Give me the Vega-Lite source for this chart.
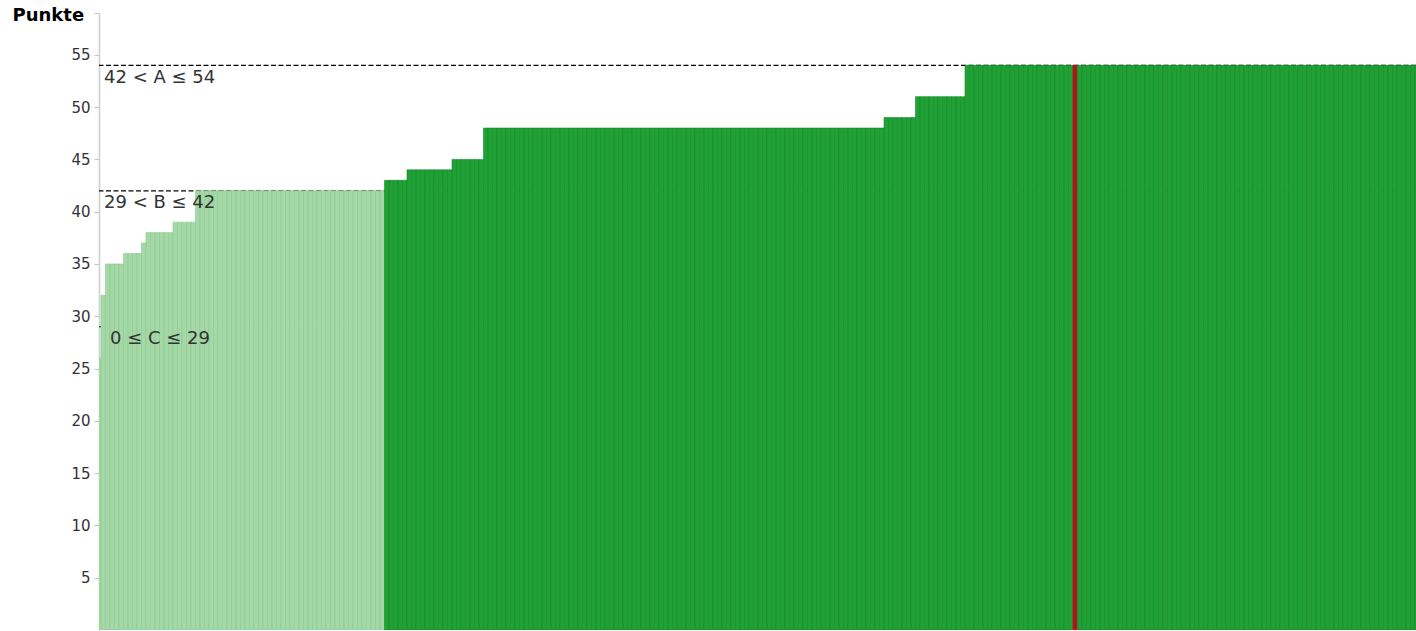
{
"$schema": "https://vega.github.io/schema/vega-lite/v6.json",
"width": 1317, "height": 617,
"autosize": {"type": "none"},
"padding": {"left": 99, "top": 13, "right": 0, "bottom": 1},
"background": "white",
"config": {"view": {"stroke": null}, "font": "DejaVu Sans"},
"datasets": {
"t": [{"p":54,"l":"42 < A ≤ 54"},{"p":42,"l":"29 < B ≤ 42"},{"p":29,"l":"0 ≤ C ≤ 29"}],
"s": [
{"i":0,"p":26,"k":"h"},{"i":1,"p":32,"k":"h"},
{"i":2,"p":35,"k":"h"},{"i":3,"p":35,"k":"h"},{"i":4,"p":35,"k":"h"},{"i":5,"p":35,"k":"h"},
{"i":6,"p":36,"k":"h"},{"i":7,"p":36,"k":"h"},{"i":8,"p":36,"k":"h"},{"i":9,"p":36,"k":"h"},
{"i":10,"p":37,"k":"h"},
{"i":11,"p":38,"k":"h"},{"i":12,"p":38,"k":"h"},{"i":13,"p":38,"k":"h"},{"i":14,"p":38,"k":"h"},{"i":15,"p":38,"k":"h"},{"i":16,"p":38,"k":"h"},
{"i":17,"p":39,"k":"h"},{"i":18,"p":39,"k":"h"},{"i":19,"p":39,"k":"h"},{"i":20,"p":39,"k":"h"},{"i":21,"p":39,"k":"h"},
{"i":22,"p":42,"k":"h"},{"i":23,"p":42,"k":"h"},{"i":24,"p":42,"k":"h"},{"i":25,"p":42,"k":"h"},{"i":26,"p":42,"k":"h"},{"i":27,"p":42,"k":"h"},{"i":28,"p":42,"k":"h"},{"i":29,"p":42,"k":"h"},{"i":30,"p":42,"k":"h"},{"i":31,"p":42,"k":"h"},
{"i":32,"p":42,"k":"h"},{"i":33,"p":42,"k":"h"},{"i":34,"p":42,"k":"h"},{"i":35,"p":42,"k":"h"},{"i":36,"p":42,"k":"h"},{"i":37,"p":42,"k":"h"},{"i":38,"p":42,"k":"h"},{"i":39,"p":42,"k":"h"},{"i":40,"p":42,"k":"h"},{"i":41,"p":42,"k":"h"},
{"i":42,"p":42,"k":"h"},{"i":43,"p":42,"k":"h"},{"i":44,"p":42,"k":"h"},{"i":45,"p":42,"k":"h"},{"i":46,"p":42,"k":"h"},{"i":47,"p":42,"k":"h"},{"i":48,"p":42,"k":"h"},{"i":49,"p":42,"k":"h"},{"i":50,"p":42,"k":"h"},{"i":51,"p":42,"k":"h"},
{"i":52,"p":42,"k":"h"},{"i":53,"p":42,"k":"h"},{"i":54,"p":42,"k":"h"},{"i":55,"p":42,"k":"h"},{"i":56,"p":42,"k":"h"},{"i":57,"p":42,"k":"h"},{"i":58,"p":42,"k":"h"},{"i":59,"p":42,"k":"h"},{"i":60,"p":42,"k":"h"},{"i":61,"p":42,"k":"h"},
{"i":62,"p":42,"k":"h"},{"i":63,"p":42,"k":"h"},
{"i":64,"p":43,"k":"d"},{"i":65,"p":43,"k":"d"},{"i":66,"p":43,"k":"d"},{"i":67,"p":43,"k":"d"},{"i":68,"p":43,"k":"d"},
{"i":69,"p":44,"k":"d"},{"i":70,"p":44,"k":"d"},{"i":71,"p":44,"k":"d"},{"i":72,"p":44,"k":"d"},{"i":73,"p":44,"k":"d"},{"i":74,"p":44,"k":"d"},{"i":75,"p":44,"k":"d"},{"i":76,"p":44,"k":"d"},{"i":77,"p":44,"k":"d"},{"i":78,"p":44,"k":"d"},
{"i":79,"p":45,"k":"d"},{"i":80,"p":45,"k":"d"},{"i":81,"p":45,"k":"d"},{"i":82,"p":45,"k":"d"},{"i":83,"p":45,"k":"d"},{"i":84,"p":45,"k":"d"},{"i":85,"p":45,"k":"d"},
{"i":86,"p":48,"k":"d"},{"i":87,"p":48,"k":"d"},{"i":88,"p":48,"k":"d"},{"i":89,"p":48,"k":"d"},{"i":90,"p":48,"k":"d"},{"i":91,"p":48,"k":"d"},{"i":92,"p":48,"k":"d"},{"i":93,"p":48,"k":"d"},{"i":94,"p":48,"k":"d"},{"i":95,"p":48,"k":"d"},
{"i":96,"p":48,"k":"d"},{"i":97,"p":48,"k":"d"},{"i":98,"p":48,"k":"d"},{"i":99,"p":48,"k":"d"},{"i":100,"p":48,"k":"d"},{"i":101,"p":48,"k":"d"},{"i":102,"p":48,"k":"d"},{"i":103,"p":48,"k":"d"},{"i":104,"p":48,"k":"d"},{"i":105,"p":48,"k":"d"},
{"i":106,"p":48,"k":"d"},{"i":107,"p":48,"k":"d"},{"i":108,"p":48,"k":"d"},{"i":109,"p":48,"k":"d"},{"i":110,"p":48,"k":"d"},{"i":111,"p":48,"k":"d"},{"i":112,"p":48,"k":"d"},{"i":113,"p":48,"k":"d"},{"i":114,"p":48,"k":"d"},{"i":115,"p":48,"k":"d"},
{"i":116,"p":48,"k":"d"},{"i":117,"p":48,"k":"d"},{"i":118,"p":48,"k":"d"},{"i":119,"p":48,"k":"d"},{"i":120,"p":48,"k":"d"},{"i":121,"p":48,"k":"d"},{"i":122,"p":48,"k":"d"},{"i":123,"p":48,"k":"d"},{"i":124,"p":48,"k":"d"},{"i":125,"p":48,"k":"d"},
{"i":126,"p":48,"k":"d"},{"i":127,"p":48,"k":"d"},{"i":128,"p":48,"k":"d"},{"i":129,"p":48,"k":"d"},{"i":130,"p":48,"k":"d"},{"i":131,"p":48,"k":"d"},{"i":132,"p":48,"k":"d"},{"i":133,"p":48,"k":"d"},{"i":134,"p":48,"k":"d"},{"i":135,"p":48,"k":"d"},
{"i":136,"p":48,"k":"d"},{"i":137,"p":48,"k":"d"},{"i":138,"p":48,"k":"d"},{"i":139,"p":48,"k":"d"},{"i":140,"p":48,"k":"d"},{"i":141,"p":48,"k":"d"},{"i":142,"p":48,"k":"d"},{"i":143,"p":48,"k":"d"},{"i":144,"p":48,"k":"d"},{"i":145,"p":48,"k":"d"},
{"i":146,"p":48,"k":"d"},{"i":147,"p":48,"k":"d"},{"i":148,"p":48,"k":"d"},{"i":149,"p":48,"k":"d"},{"i":150,"p":48,"k":"d"},{"i":151,"p":48,"k":"d"},{"i":152,"p":48,"k":"d"},{"i":153,"p":48,"k":"d"},{"i":154,"p":48,"k":"d"},{"i":155,"p":48,"k":"d"},
{"i":156,"p":48,"k":"d"},{"i":157,"p":48,"k":"d"},{"i":158,"p":48,"k":"d"},{"i":159,"p":48,"k":"d"},{"i":160,"p":48,"k":"d"},{"i":161,"p":48,"k":"d"},{"i":162,"p":48,"k":"d"},{"i":163,"p":48,"k":"d"},{"i":164,"p":48,"k":"d"},{"i":165,"p":48,"k":"d"},
{"i":166,"p":48,"k":"d"},{"i":167,"p":48,"k":"d"},{"i":168,"p":48,"k":"d"},{"i":169,"p":48,"k":"d"},{"i":170,"p":48,"k":"d"},{"i":171,"p":48,"k":"d"},{"i":172,"p":48,"k":"d"},{"i":173,"p":48,"k":"d"},{"i":174,"p":48,"k":"d"},
{"i":175,"p":49,"k":"d"},{"i":176,"p":49,"k":"d"},{"i":177,"p":49,"k":"d"},{"i":178,"p":49,"k":"d"},{"i":179,"p":49,"k":"d"},{"i":180,"p":49,"k":"d"},{"i":181,"p":49,"k":"d"},
{"i":182,"p":51,"k":"d"},{"i":183,"p":51,"k":"d"},{"i":184,"p":51,"k":"d"},{"i":185,"p":51,"k":"d"},{"i":186,"p":51,"k":"d"},{"i":187,"p":51,"k":"d"},{"i":188,"p":51,"k":"d"},{"i":189,"p":51,"k":"d"},{"i":190,"p":51,"k":"d"},{"i":191,"p":51,"k":"d"},{"i":192,"p":51,"k":"d"},
{"i":193,"p":54,"k":"d"},{"i":194,"p":54,"k":"d"},{"i":195,"p":54,"k":"d"},{"i":196,"p":54,"k":"d"},{"i":197,"p":54,"k":"d"},{"i":198,"p":54,"k":"d"},{"i":199,"p":54,"k":"d"},{"i":200,"p":54,"k":"d"},{"i":201,"p":54,"k":"d"},{"i":202,"p":54,"k":"d"},
{"i":203,"p":54,"k":"d"},{"i":204,"p":54,"k":"d"},{"i":205,"p":54,"k":"d"},{"i":206,"p":54,"k":"d"},{"i":207,"p":54,"k":"d"},{"i":208,"p":54,"k":"d"},{"i":209,"p":54,"k":"d"},{"i":210,"p":54,"k":"d"},{"i":211,"p":54,"k":"d"},{"i":212,"p":54,"k":"d"},
{"i":213,"p":54,"k":"d"},{"i":214,"p":54,"k":"d"},{"i":215,"p":54,"k":"d"},{"i":216,"p":54,"k":"d"},{"i":217,"p":54,"k":"r"},{"i":218,"p":54,"k":"d"},{"i":219,"p":54,"k":"d"},{"i":220,"p":54,"k":"d"},{"i":221,"p":54,"k":"d"},{"i":222,"p":54,"k":"d"},
{"i":223,"p":54,"k":"d"},{"i":224,"p":54,"k":"d"},{"i":225,"p":54,"k":"d"},{"i":226,"p":54,"k":"d"},{"i":227,"p":54,"k":"d"},{"i":228,"p":54,"k":"d"},{"i":229,"p":54,"k":"d"},{"i":230,"p":54,"k":"d"},{"i":231,"p":54,"k":"d"},{"i":232,"p":54,"k":"d"},
{"i":233,"p":54,"k":"d"},{"i":234,"p":54,"k":"d"},{"i":235,"p":54,"k":"d"},{"i":236,"p":54,"k":"d"},{"i":237,"p":54,"k":"d"},{"i":238,"p":54,"k":"d"},{"i":239,"p":54,"k":"d"},{"i":240,"p":54,"k":"d"},{"i":241,"p":54,"k":"d"},{"i":242,"p":54,"k":"d"},
{"i":243,"p":54,"k":"d"},{"i":244,"p":54,"k":"d"},{"i":245,"p":54,"k":"d"},{"i":246,"p":54,"k":"d"},{"i":247,"p":54,"k":"d"},{"i":248,"p":54,"k":"d"},{"i":249,"p":54,"k":"d"},{"i":250,"p":54,"k":"d"},{"i":251,"p":54,"k":"d"},{"i":252,"p":54,"k":"d"},
{"i":253,"p":54,"k":"d"},{"i":254,"p":54,"k":"d"},{"i":255,"p":54,"k":"d"},{"i":256,"p":54,"k":"d"},{"i":257,"p":54,"k":"d"},{"i":258,"p":54,"k":"d"},{"i":259,"p":54,"k":"d"},{"i":260,"p":54,"k":"d"},{"i":261,"p":54,"k":"d"},{"i":262,"p":54,"k":"d"},
{"i":263,"p":54,"k":"d"},{"i":264,"p":54,"k":"d"},{"i":265,"p":54,"k":"d"},{"i":266,"p":54,"k":"d"},{"i":267,"p":54,"k":"d"},{"i":268,"p":54,"k":"d"},{"i":269,"p":54,"k":"d"},{"i":270,"p":54,"k":"d"},{"i":271,"p":54,"k":"d"},{"i":272,"p":54,"k":"d"},
{"i":273,"p":54,"k":"d"},{"i":274,"p":54,"k":"d"},{"i":275,"p":54,"k":"d"},{"i":276,"p":54,"k":"d"},{"i":277,"p":54,"k":"d"},{"i":278,"p":54,"k":"d"},{"i":279,"p":54,"k":"d"},{"i":280,"p":54,"k":"d"},{"i":281,"p":54,"k":"d"},{"i":282,"p":54,"k":"d"},
{"i":283,"p":54,"k":"d"},{"i":284,"p":54,"k":"d"},{"i":285,"p":54,"k":"d"},{"i":286,"p":54,"k":"d"},{"i":287,"p":54,"k":"d"},{"i":288,"p":54,"k":"d"},{"i":289,"p":54,"k":"d"},{"i":290,"p":54,"k":"d"},{"i":291,"p":54,"k":"d"},{"i":292,"p":54,"k":"d"},
{"i":293,"p":54,"k":"d"}
]
},
"layer": [
{
"data": {"name": "t"},
"mark": {"type": "rule", "color": "#000000", "strokeWidth": 1.2, "strokeDash": [5, 2.5]},
"encoding": {
"y": {"field": "p", "type": "quantitative",
"scale": {"domain": [0, 59], "nice": false, "zero": true},
"axis": {"title": "Punkte", "titleAngle": 0, "titleAlign": "left", "titleBaseline": "middle", "titleX": -87, "titleY": 2,
"titleFontSize": 18, "titleFontWeight": "bold", "titleColor": "#000000", "titleFont": "DejaVu Sans",
"values": [5,10,15,20,25,30,35,40,45,50,55,59],
"labelExpr": "datum.value == 59 ? '' : datum.label",
"labelFontSize": 15, "labelColor": "#333333", "labelFont": "DejaVu Sans", "labelPadding": 4,
"tickSize": 5, "tickColor": "#c8c8c8", "tickWidth": 1.2,
"domainColor": "#cfcfcf", "domainWidth": 1.6, "grid": false}}
}
},
{
"data": {"name": "s"},
"mark": {"type": "bar", "width": 4.5, "clip": true, "strokeWidth": 0.6},
"encoding": {
"x": {"field": "i", "type": "quantitative", "scale": {"domain": [0.0556, 292.72], "nice": false, "zero": false, "padding": 0}, "axis": null},
"y": {"field": "p", "type": "quantitative"},
"color": {"field": "k", "type": "nominal", "scale": {"domain": ["h", "d", "r"], "range": ["#a5d8a7", "#1fa135", "#b3141c"]}, "legend": null},
"stroke": {"field": "k", "type": "nominal", "scale": {"domain": ["h", "d", "r"], "range": ["#8cc990", "#178a2b", "#b3141c"]}, "legend": null}
}
},
{
"data": {"name": "t"},
"transform": [{"filter": "datum.p != 29"}],
"mark": {"type": "text", "align": "left", "baseline": "middle", "dx": 5, "dy": 12.5, "fontSize": 18, "color": "#333333", "font": "DejaVu Sans"},
"encoding": {
"x": {"datum": 0.0556, "type": "quantitative"},
"y": {"field": "p", "type": "quantitative"},
"text": {"field": "l"}
}
},
{
"data": {"name": "t"},
"transform": [{"filter": "datum.p == 29"}],
"mark": {"type": "text", "align": "left", "baseline": "middle", "dx": 11, "dy": 12.5, "fontSize": 18, "color": "#333333", "font": "DejaVu Sans"},
"encoding": {
"x": {"datum": 0.0556, "type": "quantitative"},
"y": {"field": "p", "type": "quantitative"},
"text": {"field": "l"}
}
}
]
}
